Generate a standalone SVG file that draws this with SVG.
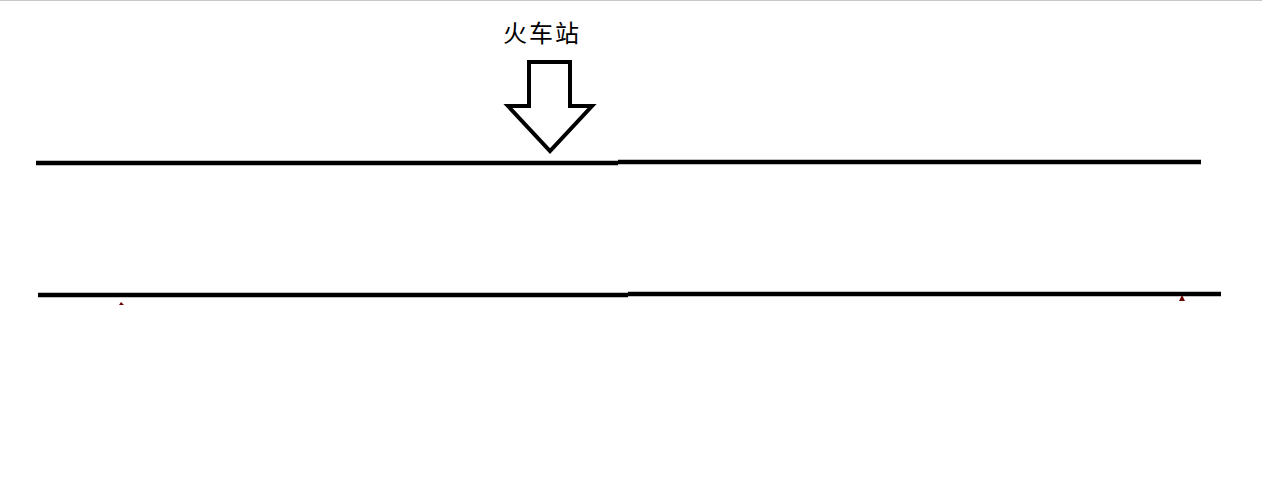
<svg xmlns="http://www.w3.org/2000/svg" width="1262" height="500" viewBox="0 0 1262 500">
<style>
.ln{stroke:#000;stroke-width:4.5;fill:none}
.lbl{font-family:"Noto Sans CJK SC","Liberation Sans",sans-serif;font-size:24px;fill:#000;letter-spacing:2px}
.mark{fill:#6b0000}
</style>
<rect x="0" y="0" width="1262" height="500" fill="#fff"/>
<rect x="0" y="0" width="1262" height="1" fill="#c8c8c8"/>
<g id="station">
<text class="lbl" x="542" y="42" text-anchor="middle">火车站</text>
<polygon points="529,62 570,62 570,106 592,106 550,151 508,106 529,106" fill="#fff" stroke="#000" stroke-width="4" stroke-linejoin="miter"/>
</g>
<g id="connectors">
<line class="ln" x1="36" y1="163" x2="618" y2="163"/>
<line class="ln" x1="618" y1="162" x2="1201" y2="162"/>
<line class="ln" x1="38" y1="295" x2="628" y2="295"/>
<line class="ln" x1="628" y1="294" x2="1221" y2="294"/>
</g>
<g id="marks">
<polygon class="mark" points="119,305 121,302 124,305"/>
<polygon class="mark" points="1179,301 1182,295 1185,301"/>
</g>
</svg>
